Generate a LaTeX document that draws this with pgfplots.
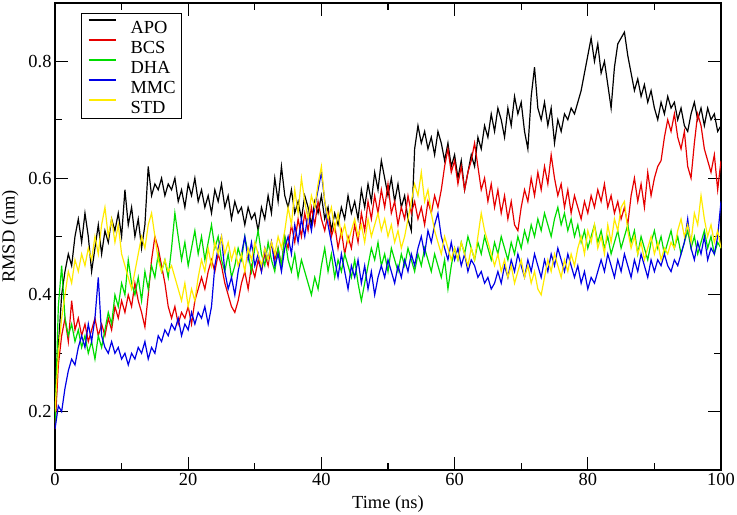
\documentclass[border=0pt]{standalone}
\usepackage{fontspec}
\setmainfont{Liberation Serif}
\usepackage{pgfplots}
\usepackage{pgfplotstable}
\pgfplotsset{compat=1.18}
\definecolor{gRed}{RGB}{230,0,0}
\definecolor{gGreen}{RGB}{0,220,0}
\definecolor{gBlue}{RGB}{0,0,230}
\definecolor{gYellow}{RGB}{255,235,0}
\pgfplotstableread{
t a b d m s
0 0.17 0.17 0.18 0.17 0.20
0.5 0.31 0.28 0.38 0.21 0.30
1 0.40 0.33 0.45 0.20 0.36
1.5 0.44 0.36 0.36 0.24 0.40
2 0.47 0.32 0.33 0.27 0.44
2.5 0.45 0.39 0.35 0.29 0.42
3 0.50 0.34 0.32 0.28 0.46
3.5 0.53 0.36 0.34 0.31 0.44
4 0.49 0.33 0.31 0.33 0.47
4.5 0.54 0.35 0.33 0.31 0.45
5 0.50 0.32 0.30 0.35 0.48
5.5 0.44 0.34 0.32 0.32 0.46
6 0.48 0.36 0.29 0.36 0.50
6.5 0.52 0.33 0.33 0.43 0.47
7 0.47 0.35 0.31 0.33 0.52
7.5 0.51 0.33 0.34 0.31 0.55
8 0.49 0.36 0.37 0.30 0.50
8.5 0.53 0.34 0.35 0.32 0.53
9 0.51 0.38 0.40 0.30 0.49
9.5 0.54 0.36 0.38 0.31 0.52
10 0.50 0.39 0.42 0.29 0.47
10.5 0.58 0.37 0.40 0.30 0.45
11 0.52 0.40 0.46 0.28 0.43
11.5 0.55 0.38 0.42 0.30 0.41
12 0.50 0.42 0.40 0.29 0.44
12.5 0.53 0.39 0.43 0.31 0.47
13 0.48 0.37 0.39 0.30 0.50
13.5 0.52 0.345 0.44 0.32 0.48
14 0.62 0.40 0.41 0.29 0.52
14.5 0.57 0.46 0.45 0.31 0.54
15 0.59 0.50 0.43 0.30 0.50
15.5 0.58 0.48 0.47 0.33 0.46
16 0.60 0.45 0.44 0.32 0.44
16.5 0.57 0.42 0.46 0.34 0.46
17 0.59 0.38 0.43 0.33 0.44
17.5 0.58 0.36 0.48 0.35 0.45
18 0.60 0.38 0.54 0.34 0.43
18.5 0.56 0.35 0.50 0.36 0.41
19 0.58 0.37 0.46 0.33 0.39
19.5 0.55 0.36 0.49 0.35 0.42
20 0.59 0.38 0.45 0.34 0.38
20.5 0.57 0.35 0.48 0.37 0.41
21 0.60 0.39 0.51 0.35 0.39
21.5 0.56 0.41 0.47 0.37 0.43
22 0.58 0.43 0.50 0.36 0.46
22.5 0.55 0.41 0.46 0.38 0.44
23 0.57 0.44 0.49 0.35 0.48
23.5 0.54 0.46 0.52 0.38 0.45
24 0.58 0.44 0.48 0.45 0.49
24.5 0.56 0.47 0.50 0.48 0.47
25 0.59 0.45 0.46 0.50 0.50
25.5 0.55 0.42 0.44 0.44 0.47
26 0.57 0.40 0.47 0.41 0.49
26.5 0.53 0.38 0.43 0.43 0.46
27 0.56 0.37 0.45 0.40 0.48
27.5 0.54 0.39 0.48 0.44 0.45
28 0.55 0.42 0.46 0.47 0.47
28.5 0.52 0.44 0.50 0.50 0.44
29 0.55 0.41 0.47 0.46 0.48
29.5 0.53 0.45 0.44 0.49 0.46
30 0.54 0.43 0.48 0.45 0.49
30.5 0.51 0.46 0.51 0.47 0.47
31 0.55 0.44 0.47 0.44 0.45
31.5 0.53 0.47 0.45 0.48 0.48
32 0.57 0.45 0.49 0.46 0.46
32.5 0.54 0.49 0.46 0.49 0.49
33 0.60 0.46 0.44 0.45 0.47
33.5 0.56 0.48 0.48 0.47 0.50
34 0.62 0.45 0.45 0.44 0.48
34.5 0.57 0.50 0.50 0.48 0.51
35 0.55 0.48 0.46 0.50 0.55
35.5 0.58 0.52 0.44 0.47 0.52
36 0.54 0.49 0.47 0.52 0.58
36.5 0.56 0.53 0.43 0.49 0.54
37 0.53 0.50 0.46 0.53 0.60
37.5 0.57 0.54 0.44 0.50 0.56
38 0.55 0.51 0.42 0.54 0.53
38.5 0.52 0.55 0.40 0.51 0.57
39 0.56 0.52 0.43 0.55 0.55
39.5 0.54 0.56 0.41 0.58 0.59
40 0.57 0.53 0.45 0.61 0.62
40.5 0.53 0.51 0.48 0.56 0.56
41 0.55 0.54 0.44 0.52 0.53
41.5 0.51 0.50 0.47 0.49 0.55
42 0.54 0.52 0.43 0.46 0.51
42.5 0.52 0.48 0.46 0.43 0.54
43 0.55 0.51 0.44 0.47 0.50
43.5 0.53 0.47 0.47 0.44 0.52
44 0.57 0.50 0.45 0.41 0.49
44.5 0.54 0.48 0.43 0.45 0.51
45 0.56 0.52 0.46 0.43 0.53
45.5 0.53 0.49 0.42 0.46 0.50
46 0.58 0.54 0.39 0.42 0.52
46.5 0.55 0.51 0.42 0.45 0.49
47 0.59 0.56 0.45 0.41 0.53
47.5 0.56 0.53 0.48 0.44 0.50
48 0.61 0.57 0.46 0.40 0.52
48.5 0.58 0.54 0.49 0.43 0.54
49 0.63 0.58 0.45 0.45 0.51
49.5 0.60 0.55 0.47 0.43 0.53
50 0.57 0.59 0.44 0.46 0.50
50.5 0.60 0.54 0.48 0.44 0.52
51 0.56 0.56 0.46 0.42 0.49
51.5 0.59 0.52 0.44 0.45 0.51
52 0.55 0.55 0.47 0.43 0.48
52.5 0.57 0.53 0.45 0.46 0.50
53 0.53 0.57 0.48 0.44 0.53
53.5 0.51 0.54 0.46 0.47 0.56
54 0.65 0.56 0.44 0.45 0.59
54.5 0.69 0.53 0.47 0.48 0.57
55 0.66 0.55 0.45 0.50 0.61
55.5 0.68 0.52 0.48 0.47 0.56
56 0.65 0.56 0.46 0.51 0.58
56.5 0.67 0.54 0.44 0.49 0.54
57 0.64 0.57 0.47 0.52 0.51
57.5 0.68 0.55 0.45 0.54 0.49
58 0.66 0.58 0.43 0.50 0.47
58.5 0.63 0.62 0.46 0.48 0.50
59 0.66 0.65 0.41 0.46 0.48
59.5 0.62 0.61 0.45 0.49 0.46
60 0.64 0.63 0.48 0.46 0.48
60.5 0.60 0.59 0.46 0.48 0.46
61 0.63 0.62 0.49 0.45 0.49
61.5 0.58 0.58 0.47 0.47 0.47
62 0.61 0.61 0.50 0.44 0.45
62.5 0.64 0.63 0.48 0.46 0.48
63 0.62 0.66 0.46 0.45 0.46
63.5 0.67 0.62 0.49 0.43 0.50
64 0.65 0.58 0.47 0.44 0.54
64.5 0.69 0.60 0.50 0.42 0.51
65 0.67 0.56 0.48 0.43 0.49
65.5 0.71 0.59 0.46 0.41 0.47
66 0.68 0.55 0.49 0.42 0.45
66.5 0.72 0.58 0.47 0.44 0.47
67 0.70 0.54 0.50 0.42 0.44
67.5 0.67 0.57 0.48 0.45 0.46
68 0.72 0.53 0.46 0.43 0.43
68.5 0.69 0.56 0.49 0.46 0.45
69 0.74 0.52 0.47 0.44 0.42
69.5 0.71 0.51 0.50 0.47 0.44
70 0.73 0.55 0.48 0.45 0.46
70.5 0.68 0.58 0.51 0.43 0.43
71 0.65 0.56 0.49 0.46 0.45
71.5 0.74 0.60 0.52 0.44 0.42
72 0.79 0.57 0.50 0.47 0.44
72.5 0.72 0.61 0.53 0.45 0.41
73 0.70 0.58 0.51 0.43 0.40
73.5 0.73 0.62 0.54 0.46 0.43
74 0.69 0.59 0.52 0.44 0.46
74.5 0.72 0.64 0.50 0.47 0.44
75 0.66 0.60 0.53 0.45 0.47
75.5 0.70 0.57 0.55 0.48 0.45
76 0.68 0.59 0.52 0.46 0.43
76.5 0.71 0.55 0.54 0.44 0.46
77 0.70 0.58 0.51 0.47 0.44
77.5 0.72 0.54 0.53 0.45 0.47
78 0.71 0.57 0.50 0.43 0.45
78.5 0.73 0.55 0.52 0.45 0.48
79 0.75 0.53 0.49 0.42 0.50
79.5 0.78 0.56 0.51 0.44 0.47
80 0.81 0.54 0.48 0.41 0.51
80.5 0.84 0.57 0.50 0.43 0.49
81 0.80 0.55 0.52 0.42 0.52
81.5 0.83 0.58 0.49 0.44 0.48
82 0.78 0.56 0.51 0.46 0.50
82.5 0.80 0.59 0.48 0.44 0.47
83 0.76 0.55 0.50 0.47 0.52
83.5 0.72 0.57 0.47 0.45 0.49
84 0.79 0.54 0.49 0.43 0.53
84.5 0.83 0.56 0.51 0.46 0.51
85 0.84 0.53 0.48 0.44 0.55
85.5 0.85 0.55 0.50 0.47 0.56
86 0.81 0.52 0.52 0.45 0.51
86.5 0.78 0.57 0.49 0.43 0.48
87 0.75 0.60 0.51 0.46 0.50
87.5 0.77 0.56 0.47 0.44 0.47
88 0.74 0.59 0.50 0.47 0.49
88.5 0.76 0.55 0.48 0.45 0.46
89 0.73 0.61 0.46 0.43 0.48
89.5 0.75 0.57 0.49 0.46 0.50
90 0.72 0.60 0.51 0.44 0.47
90.5 0.70 0.62 0.48 0.46 0.49
91 0.73 0.63 0.50 0.45 0.46
91.5 0.71 0.67 0.47 0.47 0.48
92 0.74 0.70 0.49 0.45 0.47
92.5 0.72 0.68 0.51 0.44 0.49
93 0.73 0.71 0.48 0.46 0.48
93.5 0.70 0.67 0.50 0.45 0.51
94 0.72 0.65 0.47 0.47 0.53
94.5 0.69 0.68 0.49 0.49 0.50
95 0.68 0.62 0.51 0.53 0.52
95.5 0.71 0.60 0.48 0.48 0.49
96 0.73 0.66 0.50 0.46 0.54
96.5 0.70 0.71 0.47 0.49 0.52
97 0.72 0.69 0.49 0.47 0.57
97.5 0.69 0.65 0.51 0.50 0.53
98 0.72 0.63 0.48 0.46 0.50
98.5 0.70 0.61 0.50 0.48 0.52
99 0.71 0.64 0.47 0.47 0.49
99.5 0.68 0.58 0.49 0.50 0.51
100 0.69 0.63 0.48 0.56 0.48
}\rmsd
\begin{document}
\begin{tikzpicture}
\begin{axis}[
  name=ax,
  scale only axis,
  width=666bp, height=467bp,
  xmin=0, xmax=100, ymin=0.1, ymax=0.9,
  xtick={0,20,40,60,80,100},
  ytick={0.2,0.4,0.6,0.8},
  minor x tick num=1, minor y tick num=1,
  tick align=inside,
  major tick length=13bp, minor tick length=7bp,
  every tick/.style={black, line width=1.1bp},
  axis line style={black, line width=1.4bp},
  /pgf/number format/assume math mode=true,
  yticklabel style={/pgf/number format/fixed, /pgf/number format/fixed zerofill, /pgf/number format/precision=1},
  ticklabel style={font=\fontsize{18.5}{20}\selectfont},
  label style={font=\fontsize{18.5}{20}\selectfont},
  xlabel={Time (ns)},
  ylabel={RMSD (nm)},
  xlabel style={yshift=-3bp},
  ylabel style={yshift=3bp},
  legend cell align=left,
  legend style={at={(0.039,0.979)}, anchor=north west, draw=black, line width=1.1bp,
    inner xsep=6bp, inner ysep=4bp, row sep=3bp,
    nodes={inner sep=0bp, font=\fontsize{18.5}{20}\selectfont, text height=16bp, text depth=1bp}},
  legend image code/.code={\draw[#1, line width=2bp, line cap=butt] (0bp,6bp) -- (27bp,6bp);},
  /tikz/every odd column/.append style={column sep=14bp},
]
\addplot[color=black, line width=1.2bp] table[x=t, y=a] {\rmsd};
\addlegendentry{APO}
\addplot[color=gRed, line width=1.2bp] table[x=t, y=b] {\rmsd};
\addlegendentry{BCS}
\addplot[color=gGreen, line width=1.2bp] table[x=t, y=d] {\rmsd};
\addlegendentry{DHA}
\addplot[color=gBlue, line width=1.2bp] table[x=t, y=m] {\rmsd};
\addlegendentry{MMC}
\addplot[color=gYellow, line width=1.2bp] table[x=t, y=s] {\rmsd};
\addlegendentry{STD}
\end{axis}
\pgfresetboundingbox
\path ([xshift=-55bp,yshift=-45bp]ax.south west) rectangle ([xshift=16bp,yshift=3bp]ax.north east);
\end{tikzpicture}
\end{document}
